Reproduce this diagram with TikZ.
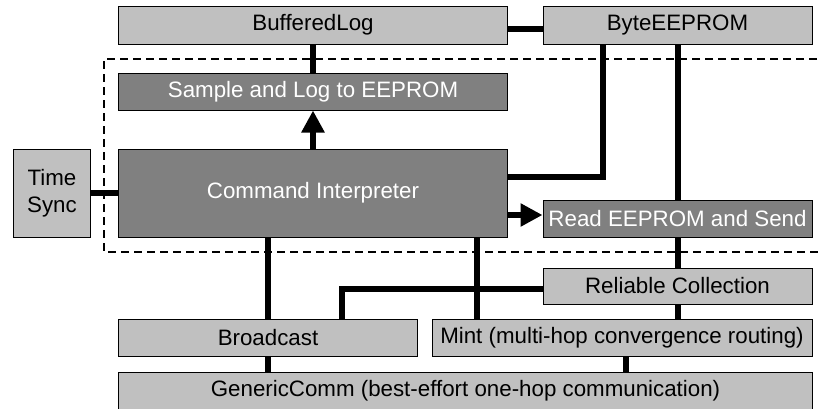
\documentclass[tikz,border=0pt]{standalone}
\usepackage{fontspec}
\setmainfont{Liberation Sans}
\usetikzlibrary{arrows.meta}
\definecolor{lightbox}{HTML}{C0C0C0}
\definecolor{darkbox}{HTML}{808080}
\begin{document}
\begin{tikzpicture}[x=1bp,y=-1bp,
  lbox/.style={draw=black, line width=1bp, fill=lightbox, inner sep=0pt, text=black,
    font=\fontsize{22.4}{27}\selectfont},
  dbox/.style={lbox, fill=darkbox, text=white},
  conn/.style={line width=6bp},
  arr/.style={conn, -{Triangle[length=22bp,width=22bp]}},
  dashbox/.style={dash pattern=on 8bp off 5bp, line width=1.5bp}]
\useasboundingbox (0,0) rectangle (819,408);
% dashed application boundary
\draw[dashbox] (830,59) -- (104,59) -- (104,252) -- (830,252);
% nodes
\node[lbox, minimum width=388bp, minimum height=38bp] (BL) at (313,25) {BufferedLog};
\node[lbox, minimum width=269bp, minimum height=38bp] (BE) at (677.5,25) {ByteEEPROM};
\node[dbox, minimum width=388bp, minimum height=37bp] (SL) at (313,91.5) {Sample and Log to EEPROM};
\node[dbox, minimum width=388bp, minimum height=88bp] (CI) at (313,193) {Command Interpreter};
\node[lbox, minimum width=76bp, minimum height=88bp, align=center] (TS) at (52,193) {Time\\Sync};
\node[dbox, minimum width=269bp, minimum height=37bp] (RE) at (677.5,218.5) {Read EEPROM and Send};
\node[lbox, minimum width=269bp, minimum height=36bp] (RC) at (677.5,286) {Reliable Collection};
\node[lbox, minimum width=298bp, minimum height=37bp] (BR) at (268,337.5) {Broadcast};
\node[lbox, minimum width=380bp, minimum height=37bp] (MI) at (622,337.5) {Mint (multi-hop convergence routing)};
\node[lbox, minimum width=693bp, minimum height=38bp] (GC) at (465.5,391) {GenericComm (best-effort one-hop communication)};
% helper coordinates
\coordinate (rein) at ([yshift=3.5bp]RE.west);
\coordinate (mtop) at ([xshift=164bp]CI.south);
\coordinate (bcorner) at ([xshift=74bp]BR.north);
% connectors
\draw[conn] ([yshift=-4bp]BL.east) -- ([yshift=-4bp]BE.west);
\draw[conn] (BL.south) -- (SL.north);
\draw[arr] (CI.north) -- (SL.south);
\draw[conn] (TS.east) -- (TS.east -| CI.west);
\draw[conn] ([yshift=16bp]CI.east) -| ([xshift=-74.5bp]BE.south);
\draw[conn] (BE.south) -- (RE.north);
\draw[arr] (CI.east |- rein) -- (rein);
\draw[conn] (RE.south) -- (RC.north);
\draw[conn] (RC.south) -- (RC.south |- MI.north);
\draw[conn] (mtop) -- (mtop |- MI.north);
\draw[conn] (BR.north) -- (BR.north |- CI.south);
\draw[conn] ([yshift=-3bp]RC.west) -| (bcorner);
\draw[conn] (BR.south) -- (BR.south |- GC.north);
\draw[conn] ([xshift=4bp]MI.south) -- ([xshift=4bp]MI.south |- GC.north);
\end{tikzpicture}
\end{document}
